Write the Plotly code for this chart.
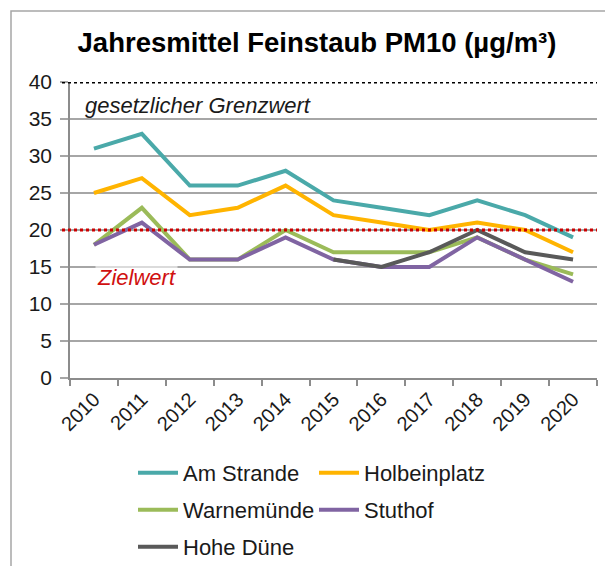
import plotly.graph_objects as go

years = ["2010", "2011", "2012", "2013", "2014", "2015", "2016", "2017", "2018", "2019", "2020"]
am_strande = [31, 33, 26, 26, 28, 24, 23, 22, 24, 22, 19]
holbeinplatz = [25, 27, 22, 23, 26, 22, 21, 20, 21, 20, 17]
warnemuende = [18, 23, 16, 16, 20, 17, 17, 17, 19, 16, 14]
stuthof = [18, 21, 16, 16, 19, 16, 15, 15, 19, 16, 13]
hohe_duene = [None, None, None, None, None, 16, 15, 17, 20, 17, 16]
grenzwert = 40
zielwert = 20

series = [
    ("Am Strande", am_strande, "#4aa9a9", "legend"),
    ("Holbeinplatz", holbeinplatz, "#ffb400", "legend"),
    ("Warnemünde", warnemuende, "#9bbb59", "legend2"),
    ("Stuthof", stuthof, "#8064a2", "legend2"),
    ("Hohe Düne", hohe_duene, "#595959", "legend3"),
]

fig = go.Figure()
for name, vals, col, lg in series:
    fig.add_trace(go.Scatter(x=years, y=vals, name=name, mode="lines",
                             line=dict(color=col, width=4), legend=lg))

# page body has an 8px margin; figure is sized to fit the window
OX, OY = 8, 8
W, H = 613 - OX, 566 - OY
L, T = 70 - OX, 82 - OY
R = W - (597 - OX)
B = H - (378 - OY)
pw, ph = W - L - R, H - T - B

def px_x(px):
    return (px - OX - L) / pw

def px_y(py):
    return (H - B - (py - OY)) / ph

shapes = [
    dict(type="rect", xref="paper", yref="paper", x0=px_x(11), x1=px_x(640),
         y0=px_y(590), y1=px_y(11), line=dict(color="#a6a6a6", width=1.5), layer="below"),
    dict(type="line", xref="paper", yref="y", x0=px_x(62), x1=1, y0=grenzwert, y1=grenzwert,
         line=dict(color="black", width=3, dash="dot")),
    dict(type="line", xref="paper", yref="y", x0=px_x(62), x1=1, y0=zielwert, y1=zielwert,
         line=dict(color="#cc0000", width=3, dash="dot")),
]

font_family = "Liberation Sans, Arial, sans-serif"
legend_common = dict(orientation="h", font=dict(size=22, color="#1a1a1a", family=font_family),
                     bgcolor="rgba(0,0,0,0)", entrywidth=126, entrywidthmode="pixels",
                     xanchor="left", yanchor="middle", itemwidth=40, itemclick=False)

fig.update_layout(
    width=W, height=H,
    margin=dict(l=L, r=R, t=T, b=B, pad=0, autoexpand=False),
    paper_bgcolor="white", plot_bgcolor="white",
    font=dict(family=font_family, color="#1a1a1a"),
    title=dict(text="<b>Jahresmittel Feinstaub PM10 (µg/m³)</b>", x=(317 - OX) / W,
               xref="container", xanchor="center", y=1 - (42 - OY) / H, yanchor="middle",
               font=dict(size=27.5, color="black", family=font_family)),
    xaxis=dict(type="category", range=[-0.5, 10.5], tickson="boundaries", ticks="outside",
               ticklen=6, tickcolor="#8c8c8c", tickwidth=1.5, showline=True,
               linecolor="#8c8c8c", linewidth=1.5, showgrid=False, tickangle=-45,
               tickfont=dict(size=20, color="#1a1a1a")),
    yaxis=dict(range=[0, 40], dtick=5, showgrid=True, gridcolor="#a6a6a6", gridwidth=1.5,
               ticks="outside", ticklen=8, tickcolor="#a6a6a6", tickwidth=1.5,
               showline=True, linecolor="#8c8c8c", linewidth=1.5, zeroline=False,
               ticklabelstandoff=4,
               tickfont=dict(size=21, color="#1a1a1a")),
    shapes=shapes,
    legend=dict(x=px_x(133), y=px_y(473), **legend_common),
    legend2=dict(x=px_x(133), y=px_y(510), **legend_common),
    legend3=dict(x=px_x(133), y=px_y(547), **legend_common),
    annotations=[
        dict(text="<i>gesetzlicher Grenzwert</i>", xref="paper", yref="paper",
             x=px_x(83), y=px_y(106), xanchor="left", yanchor="middle", showarrow=False,
             font=dict(size=22, color="#1a1a1a", family=font_family)),
        dict(text="<i>Zielwert</i>", xref="paper", yref="paper",
             x=px_x(136), y=px_y(277), xanchor="center", yanchor="middle", showarrow=False,
             bgcolor="rgba(255,255,255,0.6)",
             font=dict(size=22, color="#d01010", family=font_family)),
    ],
)

fig.write_html("out.html")
